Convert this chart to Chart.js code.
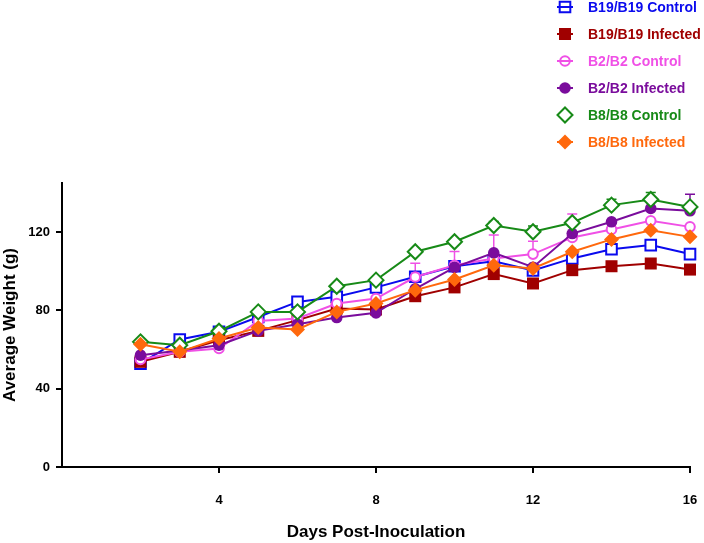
<!DOCTYPE html>
<html>
<head>
<meta charset="utf-8">
<script src="https://cdn.jsdelivr.net/npm/chart.js@4.4.0/dist/chart.umd.min.js"></script>
<style>
  body { margin: 0; background: #fff; }
</style>
</head>
<body>
<canvas id="grafico" width="704" height="543"></canvas>
<script>
    const dias = [2, 3, 4, 5, 6, 7, 8, 9, 10, 11, 12, 13, 14, 15, 16];
    const xTicks = [4, 8, 12, 16];
    const yTicks = [0, 40, 80, 120];

    const nomes = ["B19/B19 Control", "B19/B19 Infected", "B2/B2 Control", "B2/B2 Infected", "B8/B8 Control", "B8/B8 Infected"];

    const b19Control  = [52.8, 65.1, 69.0, 76.6, 84.3, 86.9, 91.7, 97.1, 102.5, 105.0, 100.3, 106.5, 111.2, 113.3, 108.7];
    const b19Infected = [53.7, 58.8, 64.7, 69.5, 75.0, 80.9, 80.4, 87.2, 91.7, 98.5, 93.7, 100.5, 102.5, 103.9, 100.8];
    const b2Control   = [54.9, 58.8, 60.5, 74.6, 75.8, 83.5, 86.0, 97.0, 103.0, 106.5, 108.7, 117.2, 121.3, 125.7, 122.6];
    const b2Infected  = [57.1, 59.5, 62.2, 69.5, 72.9, 76.3, 78.7, 91.0, 101.9, 109.3, 102.0, 119.2, 125.2, 132.0, 130.8];
    const b8Control   = [63.9, 62.2, 69.3, 79.2, 79.2, 92.3, 95.4, 109.9, 115.0, 123.3, 120.1, 124.7, 133.7, 136.6, 132.8];
    const b8Infected  = [62.7, 58.8, 65.6, 71.2, 70.2, 79.2, 83.5, 90.3, 95.7, 103.0, 101.4, 109.9, 116.2, 120.9, 117.5];

    // upper error bars (only the ones visible in the figure)
    const erroB2Control  = [0, 0, 0, 0, 0, 0, 0, 7, 7, 12, 6.5, 12, 0, 0, 0];
    const erroB2Infected = [0, 0, 0, 0, 0, 0, 0, 0, 0, 0, 0, 0, 0, 0, 8.5];
    const erroB8Control  = [0, 0, 0, 0, 0, 0, 0, 0, 0, 2, 3, 0, 3, 3.5, 0];

    const series = [
      {valores: b19Control,  erro: null,           cor: '#0a0aee', estilo: 'rect',    r: 7.5, cheio: false},
      {valores: b19Infected, erro: null,           cor: '#a00000', estilo: 'rect',    r: 8.5, cheio: true},
      {valores: b2Control,   erro: erroB2Control,  cor: '#f050e6', estilo: 'circle',  r: 4.8, cheio: false},
      {valores: b2Infected,  erro: erroB2Infected, cor: '#7a0c9c', estilo: 'circle',  r: 5.8, cheio: true},
      {valores: b8Control,   erro: erroB8Control,  cor: '#178a17', estilo: 'rectRot', r: 7.5, cheio: false},
      {valores: b8Infected,  erro: null,           cor: '#ff680c', estilo: 'rectRot', r: 7.5, cheio: true},
    ];

    const fonte = "'Liberation Sans', Arial, sans-serif";

    function marcador(ctx, estilo, x, y, r, cor, cheio, fundo) {
      ctx.save();
      ctx.beginPath();
      if (estilo === 'rect') {
        const s = r * Math.SQRT1_2;
        ctx.rect(x - s, y - s, 2 * s, 2 * s);
      } else if (estilo === 'circle') {
        ctx.arc(x, y, r, 0, Math.PI * 2);
      } else {
        ctx.moveTo(x - r, y);
        ctx.lineTo(x, y - r);
        ctx.lineTo(x + r, y);
        ctx.lineTo(x, y + r);
        ctx.closePath();
      }
      if (cheio) {
        ctx.fillStyle = cor;
        ctx.fill();
      } else {
        if (fundo) { ctx.fillStyle = fundo; ctx.fill(); }
        ctx.strokeStyle = cor;
        ctx.lineWidth = 2;
        ctx.stroke();
      }
      ctx.restore();
    }

    const barrasErro = {
      id: 'barrasErro',
      beforeDatasetsDraw(chart) {
        const ctx = chart.ctx, x = chart.scales.x, y = chart.scales.y;
        ctx.save();
        series.forEach(s => {
          if (!s.erro) return;
          s.erro.forEach((e, j) => {
            if (!e) return;
            const px = x.getPixelForValue(dias[j]);
            const y0 = y.getPixelForValue(s.valores[j]);
            const y1 = y.getPixelForValue(s.valores[j] + e);
            ctx.strokeStyle = s.cor;
            ctx.lineWidth = 1.5;
            ctx.beginPath();
            ctx.moveTo(px, y0);
            ctx.lineTo(px, y1);
            ctx.moveTo(px - 5, y1);
            ctx.lineTo(px + 5, y1);
            ctx.stroke();
          });
        });
        ctx.restore();
      }
    };

    const legenda = {
      id: 'legenda',
      afterDraw(chart) {
        const ctx = chart.ctx;
        series.forEach((s, i) => {
          const cy = 7 + 27 * i;
          ctx.save();
          ctx.strokeStyle = s.cor;
          ctx.lineWidth = 2;
          ctx.beginPath();
          ctx.moveTo(557, cy);
          ctx.lineTo(573, cy);
          ctx.stroke();
          ctx.restore();
          marcador(ctx, s.estilo, 565, cy, s.r, s.cor, s.cheio, s.estilo === 'rectRot' ? '#fff' : null);
          ctx.save();
          ctx.fillStyle = s.cor;
          ctx.font = "bold 14px " + fonte;
          ctx.textBaseline = 'middle';
          ctx.fillText(nomes[i], 588, cy + 1);
          ctx.restore();
        });
      }
    };

    const datasets = series.map((s, i) => ({
      label: nomes[i],
      data: dias.map((d, j) => ({x: d, y: s.valores[j]})),
      borderColor: s.cor,
      borderWidth: 2,
      backgroundColor: s.cheio ? s.cor : '#fff',
      pointBackgroundColor: s.cheio ? s.cor : '#fff',
      pointBorderColor: s.cor,
      pointBorderWidth: s.cheio ? 0 : 2,
      pointStyle: s.estilo,
      pointRadius: s.r,
      pointHoverRadius: s.r,
      order: 5 - i,
      clip: false,
      tension: 0
    }));

    new Chart(document.getElementById('grafico'), {
      type: 'line',
      data: { datasets },
      options: {
        responsive: false,
        animation: false,
        layout: { padding: { top: 183, right: 0, left: 0, bottom: 0 } },
        plugins: {
          legend: { display: false },
          tooltip: { enabled: false }
        },
        scales: {
          x: {
            type: 'linear',
            min: 0,
            max: 16,
            afterBuildTicks: sc => { sc.ticks = xTicks.map(v => ({value: v})); },
            afterFit: sc => { sc.height = 76; sc.paddingRight = 14; },
            ticks: { color: '#000', font: { family: fonte, size: 13, weight: 'bold' }, padding: 20, maxRotation: 0 },
            grid: { display: true, drawOnChartArea: false, drawTicks: true, tickLength: 6, color: '#000', lineWidth: 2 },
            border: { display: true, color: '#000', width: 2 },
            title: { display: true, text: 'Days Post-Inoculation', color: '#000', font: { family: fonte, size: 17, weight: 'bold' }, padding: { top: 0, bottom: 0 } }
          },
          y: {
            min: 0,
            max: 145,
            afterBuildTicks: sc => { sc.ticks = yTicks.map(v => ({value: v})); },
            afterFit: sc => { sc.width = 62; },
            ticks: { color: '#000', font: { family: fonte, size: 13, weight: 'bold' }, padding: 6 },
            grid: { display: true, drawOnChartArea: false, drawTicks: true, tickLength: 6, color: '#000', lineWidth: 2 },
            border: { display: true, color: '#000', width: 2 },
            title: { display: true, text: 'Average Weight (g)', color: '#000', font: { family: fonte, size: 17, weight: 'bold' }, padding: { top: 0, bottom: 0 } }
          }
        }
      },
      plugins: [barrasErro, legenda]
    });
</script>
</body>
</html>
